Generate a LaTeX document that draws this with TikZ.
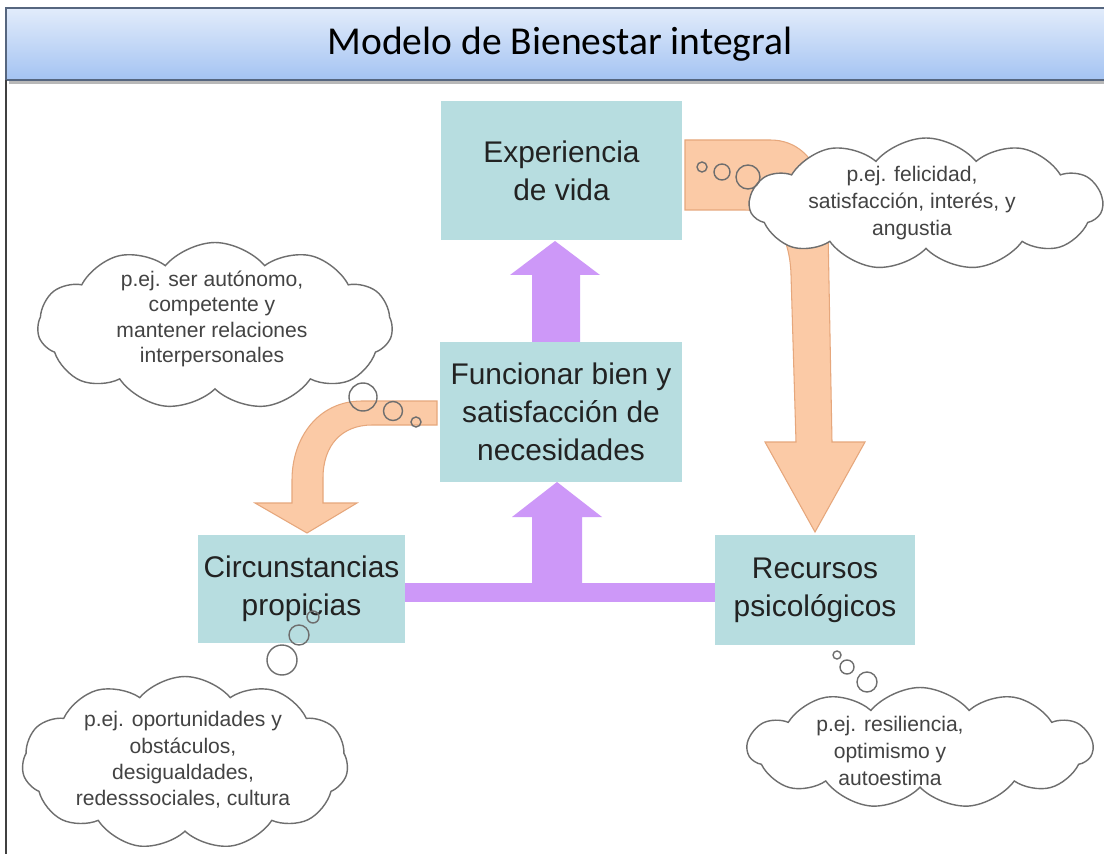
\documentclass[tikz,border=0pt]{standalone}
\usepackage{fontspec}
\setmainfont{Liberation Sans}
\newfontfamily\titlefont{Carlito}
\usetikzlibrary{shapes.symbols}
\definecolor{boxc}{HTML}{B7DDE0}
\definecolor{purp}{HTML}{CD98F8}
\definecolor{orf}{HTML}{FBCAA6}
\definecolor{ord}{HTML}{E6A77C}
\definecolor{cldr}{HTML}{6E6E6E}
\definecolor{tbtop}{HTML}{E2ECFB}
\definecolor{tbbot}{HTML}{A4C3F2}
\definecolor{tbdraw}{HTML}{56667F}
\definecolor{txt}{HTML}{222222}
\tikzset{
  boxnode/.style={fill=boxc, draw=none, align=center, text=txt,
    font=\fontsize{17}{21.5}\selectfont},
  cloudnode/.style={cloud, cloud puffs=11, cloud puff arc=100, cloud ignores aspect,
    draw=cldr, line width=0.8pt, fill=white, inner sep=0pt},
  cloudtext/.style={align=center, text=txt!85!white, font=\fontsize{12}{14.5}\selectfont},
  purpshape/.style={fill=purp, draw=none},
  orshape/.style={fill=orf, draw=ord, line width=0.6pt},
  bubble/.style={draw=cldr, line width=0.8pt}
}
\begin{document}
\begin{tikzpicture}[x=0.02cm,y=-0.02cm]
\useasboundingbox (0,0) rectangle (1104,854);
\fill[white] (0,0) rectangle (1104,854);

% title bar
\fill[black!28] (9,12) rectangle (1108,84);
\shade[top color=tbtop, bottom color=tbbot, draw=tbdraw, line width=0.8pt] (6,8) rectangle (1110,80);
\node[font=\titlefont\fontsize{22.5}{26}\selectfont, text=black] (title) at (560,44) {Modelo de Bienestar integral};
\draw[line width=0.9pt, black!75] (6,80) -- (6,854);

% orange arrows
\path[orshape] (685,140) -- (770,140) .. controls (805,140) and (828,170) .. (828,230)
  -- (832,442) -- (865,442) -- (815,532) -- (765,442) -- (796,442)
  -- (791,275) .. controls (790,238) and (775,210) .. (745,210) -- (685,210) -- cycle;
\path[orshape] (437,401) -- (362,401) .. controls (318,401) and (292,438) .. (292,480)
  -- (292,503) -- (255,503) -- (307,533) -- (357,503) -- (323,503)
  -- (323,478) .. controls (323,445) and (342,425) .. (372,425) -- (437,425) -- cycle;

% purple arrows
\path[purpshape] (403,583) rectangle (715,602);
\path[purpshape] (532,585) -- (532,517) -- (512,517) -- (557,482) -- (602,517) -- (582,517) -- (582,585) -- cycle;
\path[purpshape] (532,342) -- (532,275) -- (510,275) -- (555,241) -- (600,275) -- (580,275) -- (580,342) -- cycle;

% boxes
\node[boxnode, minimum width=4.82cm, minimum height=2.78cm] (exp) at (561.5,170.5) {Experiencia\\de vida};
\node[boxnode, minimum width=4.84cm, minimum height=2.8cm] (func) at (561,412) {Funcionar bien y\\satisfacción de\\necesidades};
\node[boxnode, minimum width=4.06cm, minimum height=2.16cm] (circ) at (301.5,589) {Circunstancias\\propicias};
\node[boxnode, minimum width=4.0cm, minimum height=2.2cm] (rec) at (815,590) {Recursos\\psicológicos};

% clouds
\node[cloudnode, minimum width=7.06cm, minimum height=2.64cm] (c1) at (926,204) {};
\node[cloudtext, font=\fontsize{12}{15.3}\selectfont] (t1) at (912,203) {p.ej. felicidad,\\satisfacción, interés, y\\angustia};
\node[cloudnode, minimum width=7.1cm, minimum height=3.34cm] (c2) at (215,326) {};
\node[cloudtext] (t2) at (212,319) {p.ej. ser autónomo,\\competente y\\mantener relaciones\\interpersonales};
\node[cloudnode, minimum width=6.52cm, minimum height=3.46cm] (c3) at (185,763) {};
\node[cloudtext, font=\fontsize{12}{15}\selectfont] (t3) at (183,760) {p.ej. oportunidades y\\obstáculos,\\desigualdades,\\redesssociales, cultura};
\node[cloudnode, minimum width=6.9cm, minimum height=2.42cm] (c4) at (920,748) {};
\node[cloudtext, font=\fontsize{12}{15.3}\selectfont] (t4) at (890,751) {p.ej. resiliencia,\\optimismo y\\autoestima};

% thought bubbles
\draw[bubble] (702,167) circle (5);
\draw[bubble] (722,172) circle (8);
\draw[bubble] (748,177) circle (12);
\draw[bubble] (363,397) circle (14);
\draw[bubble] (393,411) circle (9.5);
\draw[bubble] (416,422) circle (5);
\draw[bubble] (313,617) circle (6);
\draw[bubble] (299,635) circle (10);
\draw[bubble] (282,660) circle (15);
\draw[bubble] (837,655) circle (4);
\draw[bubble] (847,667) circle (7);
\draw[bubble] (867,682) circle (10);
\end{tikzpicture}
\end{document}
